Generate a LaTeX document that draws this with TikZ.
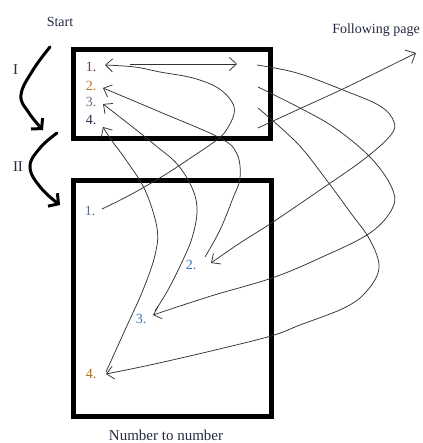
\documentclass[tikz,border=0pt]{standalone}
\usepackage{fontspec}
\setmainfont{Liberation Serif}
\usetikzlibrary{arrows.meta}
\definecolor{cpurple}{HTML}{6E3464}
\definecolor{corange}{HTML}{B8752E}
\definecolor{cgray}{HTML}{5E6C84}
\definecolor{cdark}{HTML}{28304E}
\definecolor{cblue}{HTML}{3574BA}
\definecolor{cbrown}{HTML}{A87028}
\definecolor{ctext}{HTML}{252A40}
\begin{document}
\begin{tikzpicture}[x=1pt,y=-1pt,
  lbl/.style={font=\fontsize{14}{14}\selectfont, inner sep=0pt},
  ttl/.style={font=\fontsize{14}{14}\selectfont, inner sep=0pt, text=ctext},
  wire/.style={draw=black!80, line width=0.75pt},
  tipend/.style={-{Straight Barb[length=7pt,width=13pt]}},
  bigarrow/.style={line width=3pt, line cap=round, -{Straight Barb[length=7pt,width=16pt]}},
  boxframe/.style={draw=black, line width=5pt, inner sep=0pt}]
\useasboundingbox (0,0) rectangle (422,443);
\fill[white] (0,0) rectangle (422,443);

% frames
\node[boxframe, minimum width=197pt, minimum height=89pt] (topbox) at (171.5,94) {};
\node[boxframe, minimum width=198.5pt, minimum height=236pt] (botbox) at (172.25,298.5) {};

% titles
\node[ttl] (start) at (60,22) {Start};
\node[ttl] (foll) at (376,30) {Following page};
\node[ttl, font=\fontsize{15}{15}\selectfont] (numtonum) at (166,435.5) {Number to number};
\node[ttl, font=\fontsize{15}{15}\selectfont] (one) at (15.5,70) {I};
\node[ttl, font=\fontsize{15}{15}\selectfont] (two) at (18,167) {II};

% number labels
\node[lbl, text=cpurple] (t1) at (91,67) {1.};
\node[lbl, text=corange] (t2) at (91,86) {2.};
\node[lbl, text=cgray] (t3) at (91,102) {3.};
\node[lbl, text=cdark] (t4) at (91,120) {4.};
\node[lbl, text=cgray] (b1) at (90,211) {1.};
\node[lbl, text=cblue] (b2) at (191,265) {2.};
\node[lbl, text=cblue] (b3) at (141,319) {3.};
\node[lbl, text=cbrown] (b4) at (91,374) {4.};

% anchor points
\coordinate (t1in) at (105,65);
\coordinate (t2in) at (103,88);
\coordinate (t3in) at (103,104);
\coordinate (t4in) at (103,127);
\coordinate (t1go) at (130,64);
\coordinate (t1end) at (237,64);
\coordinate (r1) at (257,65);
\coordinate (r2) at (258,87);
\coordinate (r3) at (258,108);
\coordinate (r4) at (258,128);
\coordinate (b1out) at (102,209);
\coordinate (b2out) at (205,257);
\coordinate (b3out) at (155,311);
\coordinate (b4out) at (106,372);
\coordinate (b2in) at (211,263);
\coordinate (b3in) at (153,315);
\coordinate (b4in) at (106,374);
\coordinate (nextpage) at (416,53);
\coordinate (Ia) at (50,47);
\coordinate (Ib) at (43,130);
\coordinate (IIa) at (57,133);
\coordinate (IIb) at (60,205);

% big hand arrows
\draw[bigarrow] plot[smooth, tension=0.7] coordinates {(Ia) (33,70) (21,95) (29,113) (Ib)};
\draw[bigarrow] plot[smooth, tension=0.7] coordinates {(IIa) (40,148) (30,167) (41,188) (IIb)};

% across first row
\draw[wire, tipend] (t1go) -- (t1end);

% bottom numbers back to top numbers
\draw[wire, tipend] plot[smooth, tension=0.6] coordinates {(b1out) (130,195) (163,176) (195,155) (218,139) (227,129) (234,114) (232,102) (218,88) (193,78) (160,72) (135,67) (t1in)};
\draw[wire, tipend] plot[smooth, tension=0.6] coordinates {(b2out) (220,230) (233,198) (240,178) (237,154) (220,138) (160,112) (t2in)};
\draw[wire, tipend] plot[smooth, tension=0.6] coordinates {(b3out) (168,290) (182,262) (192,238) (197,212) (193,190) (178,165) (155,145) (130,125) (t3in)};
\draw[wire, tipend] plot[smooth, tension=0.6] coordinates {(b4out) (125,330) (143,290) (155,255) (157,228) (145,190) (126,160) (112,141) (t4in)};

% right side to next numbers
\draw[wire, tipend] plot[smooth, tension=0.6] coordinates {(r1) (297,73) (343,90) (380,106) (394,122) (390,136) (363,160) (320,190) (273,222) (240,243) (b2in)};
\draw[wire, tipend] plot[smooth, tension=0.6] coordinates {(r2) (300,108) (335,128) (370,157) (391,186) (393,207) (370,233) (320,258) (272,278) (211,296) (b3in)};
\draw[wire, tipend] plot[smooth, tension=0.6] coordinates {(r3) (297,143) (325,178) (350,212) (370,240) (379,268) (366,292) (344,308) (300,325) (271,336) (211,351) (150,365) (b4in)};
\draw[wire, -{Straight Barb[length=8pt,width=15pt]}] plot[smooth, tension=0.6] coordinates {(r4) (297,110) (347,87) (nextpage)};
\end{tikzpicture}
\end{document}
